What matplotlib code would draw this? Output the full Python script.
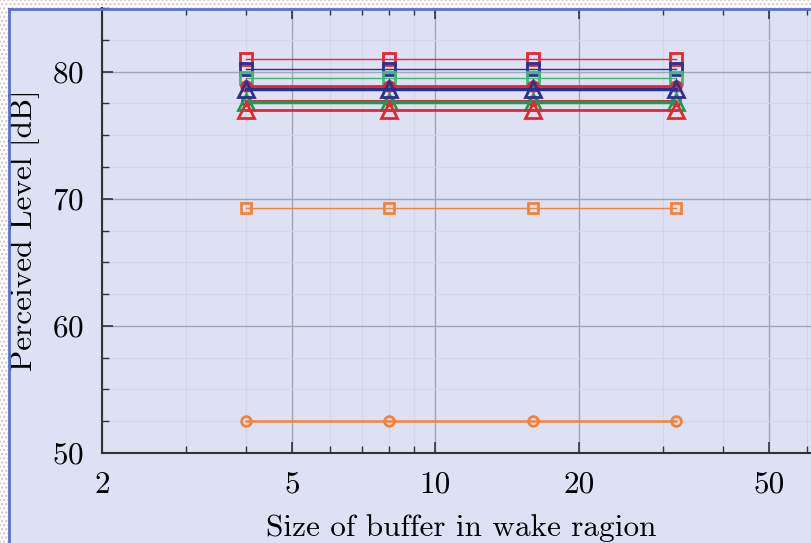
import matplotlib
matplotlib.use("Agg")
import matplotlib.pyplot as plt
import matplotlib.patches as patches
from matplotlib.lines import Line2D
from matplotlib.ticker import FixedLocator, FixedFormatter, MultipleLocator

plt.rcParams['font.family'] = 'serif'
plt.rcParams['font.serif'] = ['cmr10', 'DejaVu Serif']
plt.rcParams['mathtext.fontset'] = 'cm'
plt.rcParams['axes.formatter.use_mathtext'] = True

# Buffer sizes and perceived levels for each configuration.
buffer_sizes = [4, 8, 16, 32]
red_square = [81.0, 81.0, 81.0, 81.0]
blue_square = [80.2, 80.2, 80.2, 80.2]
green_square = [79.5, 79.5, 79.5, 79.5]
red_circle = [78.9, 78.9, 78.9, 78.9]
blue_triangle = [78.6, 78.6, 78.6, 78.6]
red_circle_low = [77.7, 77.7, 77.7, 77.7]
green_triangle = [77.6, 77.6, 77.6, 77.6]
red_triangle = [77.0, 77.0, 77.0, 77.0]
orange_square = [69.3, 69.3, 69.3, 69.3]
orange_circle = [52.5, 52.5, 52.5, 52.5]

x_major = [2, 5, 10, 20, 50]
x_minor = [3, 4, 6, 7, 8, 9, 30, 40, 60]

BG = '#dde1f3'
RED = '#e8262e'
BLUE = '#2a3192'
GREEN = '#12a050'
LGREEN = '#3fb877'
ORANGE = '#f5823c'

fig = plt.figure(figsize=(8.11, 5.43), dpi=100)
fig.patch.set_facecolor(BG)

# Speckled paper strip round the top and left edges, then the blue frame.
fig.add_artist(patches.Rectangle((0, 0), 9 / 811, 1, transform=fig.transFigure,
                                 facecolor='white', edgecolor='#c8c8c8', hatch='....',
                                 linewidth=0, zorder=0))
fig.add_artist(patches.Rectangle((0, 1 - 9 / 543), 1, 9 / 543, transform=fig.transFigure,
                                 facecolor='white', edgecolor='#c8c8c8', hatch='....',
                                 linewidth=0, zorder=0))

ax = fig.add_axes([102 / 811, 90 / 543, 718 / 811, 445 / 543])
ax.set_facecolor(BG)

series = [
    (red_square, RED, 's', 1.0, 9),
    (blue_square, BLUE, 's', 1.0, 9),
    (green_square, LGREEN, 's', 1.0, 9),
    (red_circle, RED, 'o', 2.0, 7),
    (red_circle_low, RED, 'o', 1.5, 6),
    (green_triangle, GREEN, '^', 2.5, 11),
    (blue_triangle, BLUE, '^', 2.5, 11),
    (red_triangle, RED, '^', 2.0, 11),
    (orange_square, ORANGE, 's', 1.0, 7),
    (orange_circle, ORANGE, 'o', 1.8, 7),
]
for values, color, marker, lw, ms in series:
    ax.plot(buffer_sizes, values, color=color, marker=marker, linewidth=lw,
            markersize=ms, markerfacecolor='none', markeredgewidth=2, zorder=3)

ax.set_xscale('log')
ax.set_xlim(2, 64)
ax.set_ylim(50, 85)

ax.xaxis.set_major_locator(FixedLocator(x_major))
ax.xaxis.set_major_formatter(FixedFormatter([str(v) for v in x_major]))
ax.xaxis.set_minor_locator(FixedLocator(x_minor))
ax.xaxis.set_minor_formatter(FixedFormatter([''] * len(x_minor)))
ax.yaxis.set_major_locator(FixedLocator([50, 60, 70, 80]))
ax.yaxis.set_minor_locator(MultipleLocator(2.5))

ax.grid(which='major', color='#a4a6ae', linewidth=1.0)
ax.grid(which='minor', color='#d2d6ea', linewidth=0.8)
ax.set_axisbelow(True)

ax.tick_params(which='both', direction='in', top=True, right=False,
               labelsize=22.5, pad=13, color='#333333')
ax.tick_params(which='major', length=8, width=1.2)
ax.tick_params(which='minor', length=5, width=1.0)

for side in ['right', 'top']:
    ax.spines[side].set_visible(False)
for side in ['left', 'bottom']:
    ax.spines[side].set_color('#333333')
    ax.spines[side].set_linewidth(1.5)

ax.set_xlabel('Size of buffer in wake ragion', fontsize=22.5)
ax.set_ylabel('Perceived Level [dB]', fontsize=22.5)
ax.xaxis.set_label_coords(0.5, -0.137)
ax.yaxis.set_label_coords(-0.087, 0.5)

# Blue frame lines on the figure edges.
fig.add_artist(Line2D([9 / 811, 9 / 811], [0, 1 - 8.5 / 543], transform=fig.transFigure,
                      color='#5a70cf', linewidth=2, zorder=10))
fig.add_artist(Line2D([9 / 811, 1], [1 - 8.5 / 543, 1 - 8.5 / 543], transform=fig.transFigure,
                      color='#5a70cf', linewidth=2, zorder=10))

fig.savefig('out.png', dpi=100, facecolor=fig.get_facecolor())
